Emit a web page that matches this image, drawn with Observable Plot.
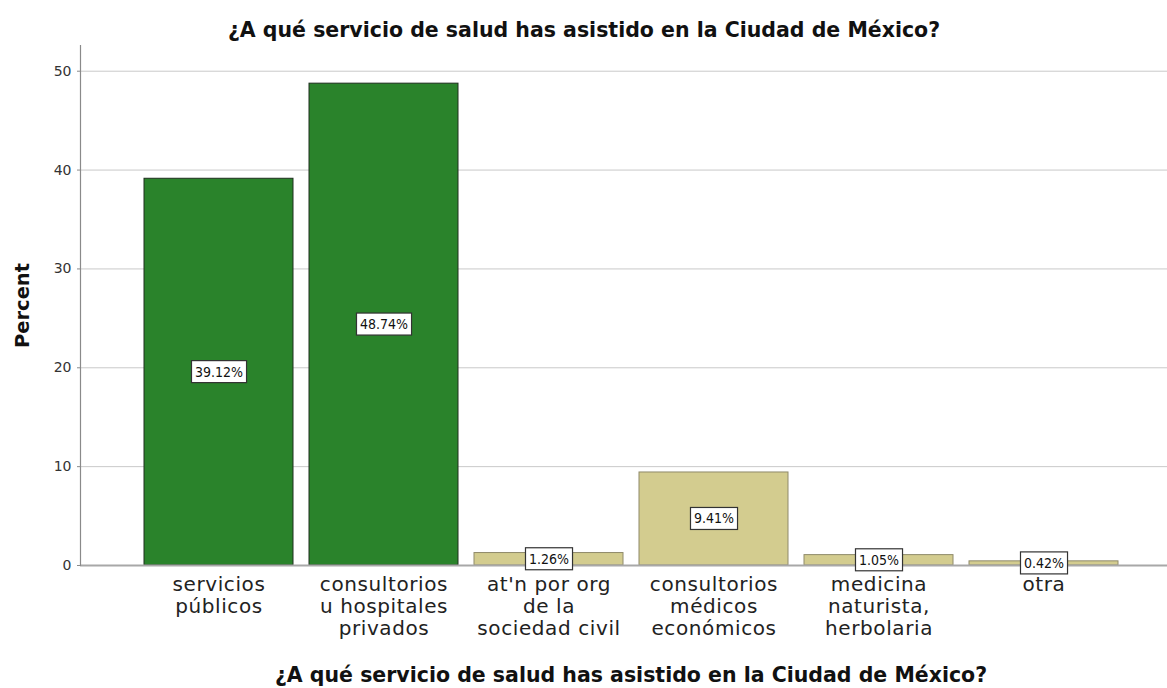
<!DOCTYPE html>
<html>
<head>
<meta charset="utf-8">
<script src="https://cdn.jsdelivr.net/npm/d3@7"></script>
<script src="https://cdn.jsdelivr.net/npm/@observablehq/plot@0.6"></script>
<style>
  html, body { margin: 0; padding: 0; background: #fff; }
  svg { display: block; }
</style>
</head>
<body>
<div id="chart"></div>
<script>
const categories = [
  "servicios públicos",
  "consultorios u hospitales privados",
  "at'n por org de la sociedad civil",
  "consultorios médicos económicos",
  "medicina naturista, herbolaria",
  "otra"
];
const tickLabels = [
  "servicios\npúblicos",
  "consultorios\nu hospitales\nprivados",
  "at'n por org\nde la\nsociedad civil",
  "consultorios\nmédicos\neconómicos",
  "medicina\nnaturista,\nherbolaria",
  "otra"
];
const percents = [39.12, 48.74, 1.26, 9.41, 1.05, 0.42];
const groups = ["principal", "principal", "otro", "otro", "otro", "otro"];
const yTicks = [0, 10, 20, 30, 40, 50];
const gridValues = [10, 20, 30, 40, 50];
const titleText = "¿A qué servicio de salud has asistido en la Ciudad de México?";
const yLabel = "Percent";

const data = categories.map((c, i) => ({cat: c, label: tickLabels[i], v: percents[i], grp: groups[i]}));

const FONT = "DejaVu Sans";
const W = 1167, H = 688;

const plot = Plot.plot({
  width: W,
  height: H,
  marginLeft: 80,
  marginRight: 0,
  marginTop: 45,
  marginBottom: 123,
  style: {fontFamily: FONT, background: "#fff"},
  x: {domain: categories, range: [135.5, 1125.5], paddingInner: 0.097, paddingOuter: 0.0485, axis: null},
  y: {domain: [0, 52.6], axis: null},
  color: {domain: ["principal", "otro"], range: ["#2a832b", "#d3cc8f"]},
  marks: [
    Plot.ruleY(gridValues, {stroke: "#c9c9c9", strokeWidth: 1}),
    Plot.barY(data, {filter: d => d.grp === "principal", x: "cat", y: "v", fill: "grp", stroke: "#1e2e1e", strokeWidth: 1}),
    Plot.barY(data, {filter: d => d.grp !== "principal", x: "cat", y: "v", fill: "grp", stroke: "#8f8a6a", strokeWidth: 1}),
    Plot.ruleY([0], {stroke: "#a8a8a8", strokeWidth: 2}),
    Plot.frame({anchor: "left", stroke: "#8a8a8a", strokeWidth: 1.2}),
    Plot.axisY({ticks: yTicks, tickSize: 3, tickPadding: 6, fontSize: 14, stroke: "#8a8a8a", color: "#333", label: null, fontFamily: FONT}),
    Plot.text(data, {x: "cat", text: "label", frameAnchor: "bottom", lineAnchor: "top", dy: 10, fontSize: 20, lineHeight: 1.1, fill: "#222", fontFamily: FONT, stroke: null}),
    Plot.text(data, {x: "cat", y: d => d.v / 2, text: d => d.v.toFixed(2) + "%", fontSize: 14, fill: "#111", fontFamily: "DejaVu Sans Condensed, Liberation Sans Narrow, DejaVu Sans"}),
    Plot.text([titleText], {frameAnchor: "top", lineAnchor: "middle", dy: -15, dx: -40, fontSize: 20.5, fontWeight: "bold", fill: "#111", fontFamily: FONT}),
    Plot.text([titleText], {frameAnchor: "bottom", lineAnchor: "middle", dy: 110, dx: 7, fontSize: 20.5, fontWeight: "bold", fill: "#111", fontFamily: FONT}),
    Plot.text([yLabel], {frameAnchor: "left", textAnchor: "middle", lineAnchor: "middle", dx: -58, rotate: -90, fontSize: 19.5, fontWeight: "bold", fill: "#111", fontFamily: FONT})
  ]
});

document.getElementById("chart").append(plot);

// letter spacing for category labels (wider source font)
d3.select(plot).selectAll("text").each(function() {
  const fs = this.parentNode.getAttribute("font-size");
  if (fs === "20") this.parentNode.setAttribute("letter-spacing", "0.6");
});

// Add boxed background behind value labels
const svg = d3.select(plot);
svg.selectAll("text").each(function() {
  const t = this.textContent;
  if (/^\d+\.\d\d%$/.test(t)) {
    const bb = this.getBBox();
    const padX = 3.5, padY = 3.5;
    const rect = document.createElementNS("http://www.w3.org/2000/svg", "rect");
    rect.setAttribute("x", bb.x - padX);
    rect.setAttribute("y", bb.y - padY + 0.5);
    rect.setAttribute("width", bb.width + 2 * padX);
    rect.setAttribute("height", bb.height + 2 * padY - 1);
    rect.setAttribute("fill", "#fff");
    rect.setAttribute("stroke", "#333");
    rect.setAttribute("stroke-width", "1.2");
    const tr = this.getAttribute("transform");
    if (tr) rect.setAttribute("transform", tr);
    this.parentNode.insertBefore(rect, this);
  }
});
</script>
</body>
</html>
